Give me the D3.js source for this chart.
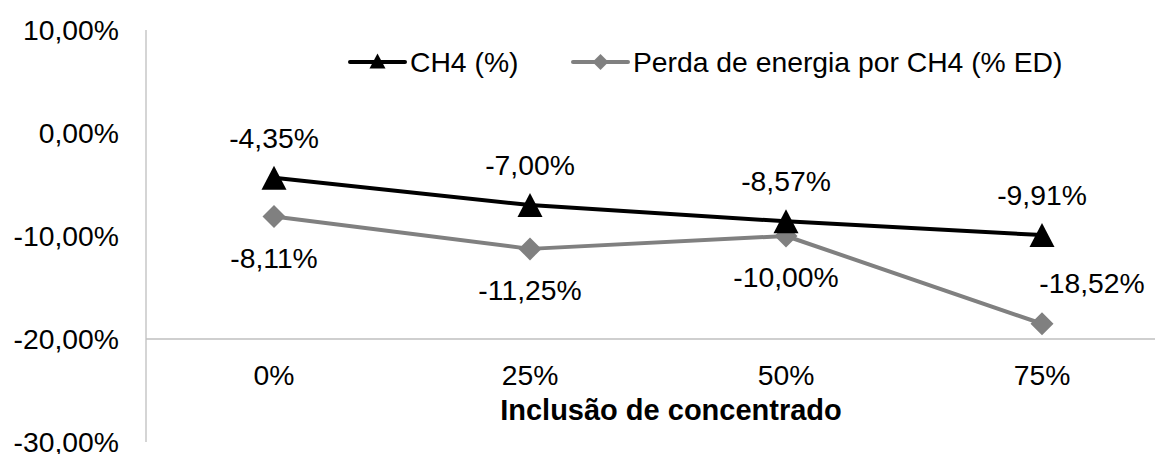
<!DOCTYPE html>
<html>
<head>
<meta charset="utf-8">
<script src="https://cdn.jsdelivr.net/npm/d3@7"></script>
<style>
  html, body { margin: 0; padding: 0; background: #fff; }
  svg { display: block; font-family: "Liberation Sans", Arial, sans-serif; }
</style>
</head>
<body>
<svg id="chart" width="1155" height="454"></svg>
<script>
// Inclusão de concentrado (categorias do eixo X)
const categories = ["0%", "25%", "50%", "75%"];
// Variação de CH4 (%)
const ch4 = [-4.35, -7.00, -8.57, -9.91];
// Variação da perda de energia por CH4 (% ED)
const perda = [-8.11, -11.25, -10.00, -18.52];
// Marcas do eixo Y (%)
const yTicks = [10, 0, -10, -20, -30];
const seriesNames = ["CH4 (%)", "Perda de energia por CH4 (% ED)"];
const axisTitle = "Inclusão de concentrado";

const ptBR = d3.formatLocale({ decimal: ",", thousands: ".", grouping: [3], currency: ["R$", ""], minus: "-" });
const fmtPct = v => ptBR.format(".2f")(v) + "%";

const svg = d3.select("#chart");
const FS = 28.3;

const x = d3.scalePoint().domain(categories).range([274, 1042]);
const y = d3.scaleLinear().domain([-30, 10]).range([442, 30]);

// Eixo vertical (linha cinza e rótulos)
svg.append("line")
  .attr("x1", 146).attr("x2", 146)
  .attr("y1", y(10)).attr("y2", y(-30))
  .attr("stroke", "#bfbfbf").attr("stroke-width", 1.3);

svg.append("g").selectAll("text")
  .data(yTicks).join("text")
  .attr("x", 119).attr("y", d => y(d))
  .attr("dy", "0.36em")
  .attr("text-anchor", "end")
  .attr("font-size", FS).attr("fill", "#000")
  .text(d => fmtPct(d));

// Eixo de categorias cruzando em -20%
svg.append("line")
  .attr("x1", 146).attr("x2", 1155)
  .attr("y1", y(-20)).attr("y2", y(-20))
  .attr("stroke", "#bfbfbf").attr("stroke-width", 1.3);

svg.append("g").selectAll("text")
  .data(categories).join("text")
  .attr("x", d => x(d)).attr("y", 385)
  .attr("text-anchor", "middle")
  .attr("font-size", FS).attr("fill", "#000")
  .text(d => d);

svg.append("text")
  .attr("x", 671).attr("y", 420)
  .attr("text-anchor", "middle")
  .attr("font-size", 29).attr("font-weight", "bold").attr("fill", "#000")
  .text(axisTitle);

const line = d3.line().x((d, i) => x(categories[i])).y(d => y(d));

const triangle = (cx, cy, w, h) =>
  `M${cx},${cy - h / 2}L${cx + w / 2},${cy + h / 2}L${cx - w / 2},${cy + h / 2}Z`;
const diamond = (cx, cy, r) =>
  `M${cx},${cy - r}L${cx + r},${cy}L${cx},${cy + r}L${cx - r},${cy}Z`;

// Série: perda de energia (cinza)
svg.append("path").datum(perda)
  .attr("d", line).attr("fill", "none")
  .attr("stroke", "#808080").attr("stroke-width", 4).attr("stroke-linejoin", "round");
svg.append("g").selectAll("path")
  .data(perda).join("path")
  .attr("d", (d, i) => diamond(x(categories[i]), y(d), 11.5))
  .attr("fill", "#808080");

// Série: CH4 (preto)
svg.append("path").datum(ch4)
  .attr("d", line).attr("fill", "none")
  .attr("stroke", "#000").attr("stroke-width", 4).attr("stroke-linejoin", "round");
svg.append("g").selectAll("path")
  .data(ch4).join("path")
  .attr("d", (d, i) => triangle(x(categories[i]), y(d), 25, 24))
  .attr("fill", "#000");

// Rótulos de dados
svg.append("g").selectAll("text")
  .data(ch4).join("text")
  .attr("x", (d, i) => x(categories[i]))
  .attr("y", d => y(d) - 30)
  .attr("text-anchor", "middle")
  .attr("font-size", FS).attr("fill", "#000")
  .text(d => fmtPct(d));

const perdaLabelDx = [0, 0, 0, 50];
const perdaLabelDy = [51, 51, 51, -31];
svg.append("g").selectAll("text")
  .data(perda).join("text")
  .attr("x", (d, i) => x(categories[i]) + perdaLabelDx[i])
  .attr("y", (d, i) => y(d) + perdaLabelDy[i])
  .attr("text-anchor", "middle")
  .attr("font-size", FS).attr("fill", "#000")
  .text(d => fmtPct(d));

// Legenda
const legend = svg.append("g");
const legendItems = [
  { name: seriesNames[0], color: "#000", x0: 350, marker: "tri" },
  { name: seriesNames[1], color: "#808080", x0: 573, marker: "dia" }
];
legendItems.forEach(it => {
  const ly = 62;
  legend.append("line")
    .attr("x1", it.x0).attr("x2", it.x0 + 55)
    .attr("y1", ly).attr("y2", ly)
    .attr("stroke", it.color).attr("stroke-width", 4).attr("stroke-linecap", "round");
  legend.append("path")
    .attr("d", it.marker === "tri" ? triangle(it.x0 + 27.5, ly - 1, 16, 15) : diamond(it.x0 + 27.5, ly, 8))
    .attr("fill", it.color);
  legend.append("text")
    .attr("x", it.x0 + 60).attr("y", ly + 10)
    .attr("font-size", FS).attr("fill", "#000")
    .text(it.name);
});
</script>
</body>
</html>
